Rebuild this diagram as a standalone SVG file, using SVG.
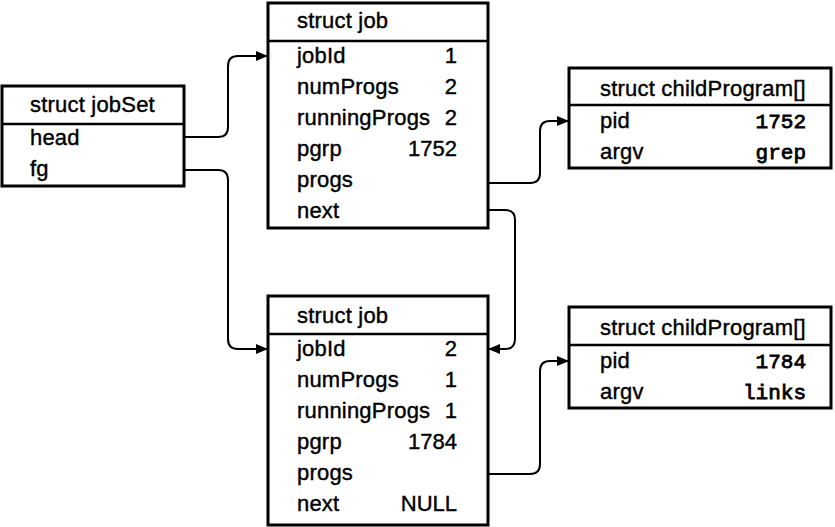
<svg xmlns="http://www.w3.org/2000/svg" width="835" height="527" viewBox="0 0 835 527">
<style>
.box{fill:#fff;stroke:#000;stroke-width:3}
.div{stroke:#000;stroke-width:2.5}
.t{font-family:"Liberation Sans",Arial,sans-serif;font-size:22px;letter-spacing:0.2px;fill:#000;stroke:#000;stroke-width:0.4}
.v{font-family:"Liberation Sans",Arial,sans-serif;font-size:22px;fill:#000;stroke:#000;stroke-width:0.4;text-anchor:end}
.m{font-family:"Liberation Mono","Courier New",monospace;font-size:21px;fill:#000;stroke:#000;stroke-width:0.8;text-anchor:end}
.c{fill:none;stroke:#000;stroke-width:2}
</style>
<defs>
<marker id="ah" markerUnits="userSpaceOnUse" markerWidth="14" markerHeight="12" refX="12" refY="5" orient="auto">
<path d="M0,0 L12,5 L0,10 z" fill="#000"/>
</marker>
</defs>
<rect width="835" height="527" fill="#fff"/>
<g id="connectors">
<path class="c" marker-end="url(#ah)" d="M184,137 H218 Q228,137 228,127 V66 Q228,56 238,56 H268"/>
<path class="c" marker-end="url(#ah)" d="M184,170 H218 Q228,170 228,180 V339 Q228,349 238,349 H268"/>
<path class="c" marker-end="url(#ah)" d="M488,183 H530 Q540,183 540,173 V131 Q540,121 550,121 H569"/>
<path class="c" marker-end="url(#ah)" d="M488,210 H505 Q515,210 515,220 V339 Q515,349 505,349 H488"/>
<path class="c" marker-end="url(#ah)" d="M488,474 H530 Q540,474 540,464 V371 Q540,361 550,361 H569"/>
</g>
<g id="jobSet">
<rect class="box" x="2" y="86" width="182" height="100"/>
<line class="div" x1="2" y1="124" x2="184" y2="124"/>
<text class="t" x="30" y="112">struct jobSet</text>
<text class="t" x="30" y="145">head</text>
<text class="t" x="30" y="176">fg</text>
</g>
<g id="job1">
<rect class="box" x="268" y="3" width="220" height="225"/>
<line class="div" x1="268" y1="41" x2="488" y2="41"/>
<text class="t" x="297" y="28">struct job</text>
<text class="t" x="297" y="63">jobId</text><text class="v" x="457" y="63">1</text>
<text class="t" x="297" y="94">numProgs</text><text class="v" x="457" y="94">2</text>
<text class="t" x="297" y="125">runningProgs</text><text class="v" x="457" y="125">2</text>
<text class="t" x="297" y="156">pgrp</text><text class="v" x="457" y="156">1752</text>
<text class="t" x="297" y="187">progs</text>
<text class="t" x="297" y="218">next</text>
</g>
<g id="job2">
<rect class="box" x="268" y="296" width="220" height="229"/>
<line class="div" x1="268" y1="334" x2="488" y2="334"/>
<text class="t" x="297" y="323">struct job</text>
<text class="t" x="297" y="356">jobId</text><text class="v" x="457" y="356">2</text>
<text class="t" x="297" y="387">numProgs</text><text class="v" x="457" y="387">1</text>
<text class="t" x="297" y="418">runningProgs</text><text class="v" x="457" y="418">1</text>
<text class="t" x="297" y="449">pgrp</text><text class="v" x="457" y="449">1784</text>
<text class="t" x="297" y="480">progs</text>
<text class="t" x="297" y="511">next</text><text class="v" x="457" y="511">NULL</text>
</g>
<g id="childProgram1">
<rect class="box" x="569" y="68" width="262" height="100"/>
<line class="div" x1="569" y1="105" x2="831" y2="105"/>
<text class="t" x="600" y="96">struct childProgram[]</text>
<text class="t" x="600" y="128">pid</text><text class="m" x="806" y="128">1752</text>
<text class="t" x="600" y="159">argv</text><text class="m" x="806" y="159">grep</text>
</g>
<g id="childProgram2">
<rect class="box" x="569" y="307" width="262" height="101"/>
<line class="div" x1="569" y1="345" x2="831" y2="345"/>
<text class="t" x="600" y="335">struct childProgram[]</text>
<text class="t" x="600" y="368">pid</text><text class="m" x="806" y="368">1784</text>
<text class="t" x="600" y="399">argv</text><text class="m" x="806" y="399">links</text>
</g>
</svg>
